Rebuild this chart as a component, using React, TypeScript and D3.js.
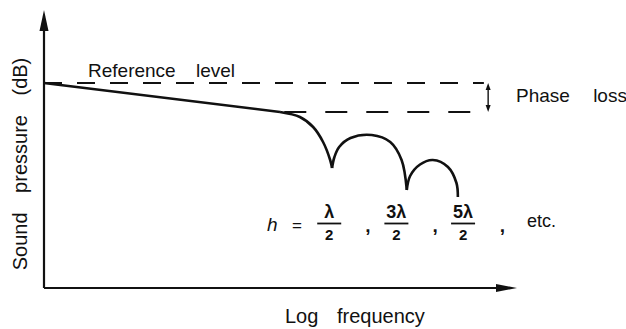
import React from 'react';
import * as d3 from 'd3';

// log-frequency (arbitrary units 0..100) vs sound pressure (dB, 0 = reference)
const directSlope: [number, number][] = [[0, 0], [49.9, -5.8]];
const lobe1: [number, number][] = [[49.9, -5.8], [54.1, -6.8], [56.9, -8.8], [59.0, -11.8], [60.5, -15.4], [60.9, -17]];
const lobe2: [number, number][] = [[60.9, -17], [61.4, -14.8], [62.4, -12.8], [64.8, -11], [69.3, -10.4], [73.2, -11.8], [75.6, -15.4], [76.7, -21.4]];
const lobe3: [number, number][] = [[76.7, -21.4], [77.4, -18.6], [79.5, -16.3], [82.2, -15.4], [85.4, -16.8], [87.2, -20], [87.5, -22.8]];
const referenceLevel = 0;
const phaseLossLevel = -5.8;
const referenceSpan = [0, 93];
const phaseLossSpan = [50.8, 93];
const phaseArrowAt = 93.9;
const fractions = [
  { num: 'λ', at: 60.3 },
  { num: '3λ', at: 74.5 },
  { num: '5λ', at: 88.6 },
];
const commaAt = [68.5, 82.7, 96.9];

const W = 626;
const H = 329;

export default function App() {
  const x = d3.scaleLinear().domain([0, 100]).range([44, 517]);
  const y = d3.scaleLinear().domain([-41, 14]).range([288, 13]);

  const line = d3.line<[number, number]>().x(d => x(d[0])).y(d => y(d[1]));
  const smooth = d3.line<[number, number]>().x(d => x(d[0])).y(d => y(d[1])).curve(d3.curveCatmullRom.alpha(0.5));

  const font = "'Liberation Sans', Arial, sans-serif";
  const ax = x(0);
  const ay = y(-41);
  const ap = x(phaseArrowAt);

  return (
    <svg width={W} height={H} style={{ position: 'absolute', left: 0, top: 0, background: '#fff' }} fontFamily={font}>
      {/* axes */}
      <line x1={ax} y1={ay} x2={ax} y2={24} stroke="#111" strokeWidth={2.2} />
      <path d={`M${ax},10 L${ax - 4.5},31 L${ax + 4.5},31 Z`} fill="#111" />
      <line x1={ax} y1={ay} x2={505} y2={ay} stroke="#111" strokeWidth={2.2} />
      <path d={`M517,${ay} L496,${ay - 4} L496,${ay + 4} Z`} fill="#111" />

      {/* dashed levels */}
      <line x1={x(referenceSpan[0])} x2={x(referenceSpan[1])} y1={y(referenceLevel)} y2={y(referenceLevel)}
        stroke="#111" strokeWidth={2} strokeDasharray="18 15" />
      <line x1={x(phaseLossSpan[0])} x2={x(phaseLossSpan[1])} y1={y(phaseLossLevel)} y2={y(phaseLossLevel)}
        stroke="#111" strokeWidth={2} strokeDasharray="22 19" />

      {/* phase loss double arrow */}
      <line x1={ap} x2={ap} y1={y(referenceLevel) + 4} y2={y(phaseLossLevel) - 4} stroke="#111" strokeWidth={1.4} />
      <path d={`M${ap},${y(referenceLevel)} L${ap - 2.5},${y(referenceLevel) + 7} L${ap + 2.5},${y(referenceLevel) + 7} Z`} fill="#111" />
      <path d={`M${ap},${y(phaseLossLevel)} L${ap - 2.5},${y(phaseLossLevel) - 7} L${ap + 2.5},${y(phaseLossLevel) - 7} Z`} fill="#111" />

      {/* response */}
      <path d={line(directSlope) ?? ''} fill="none" stroke="#111" strokeWidth={2.6} />
      {[lobe1, lobe2, lobe3].map((l, i) => (
        <path key={i} d={smooth(l) ?? ''} fill="none" stroke="#111" strokeWidth={2.6} strokeLinejoin="round" />
      ))}

      {/* labels */}
      <text x={88} y={77} fontSize={19} wordSpacing={15} fill="#111">Reference level</text>
      <text x={516} y={102} fontSize={19} wordSpacing={18} fill="#111">Phase loss</text>
      <text x={285} y={323} fontSize={20} wordSpacing={13} fill="#111">Log frequency</text>
      <text transform={`translate(27,164) rotate(-90)`} textAnchor="middle" fontSize={20} wordSpacing={14} fill="#111">
        Sound pressure (dB)
      </text>

      {/* h = λ/2, 3λ/2, 5λ/2, etc. */}
      <text x={267} y={231} fontSize={19} fontStyle="italic" fill="#111">h</text>
      <text x={292} y={231} fontSize={17} fill="#111">=</text>
      {fractions.map(f => (
        <g key={f.num}>
          <text x={x(f.at)} y={218} fontSize={18} fontWeight="bold" textAnchor="middle" fill="#111">{f.num}</text>
          <line x1={x(f.at) - 12} x2={x(f.at) + 12} y1={223.5} y2={223.5} stroke="#111" strokeWidth={1.8} />
          <text x={x(f.at)} y={240} fontSize={15} fontWeight="bold" textAnchor="middle" fill="#111">2</text>
        </g>
      ))}
      {commaAt.map((c, i) => (
        <text key={i} x={x(c)} y={232} fontSize={19} fontWeight="bold" textAnchor="middle" fill="#111">,</text>
      ))}
      <text x={527} y={227} fontSize={18} fill="#111">etc.</text>
    </svg>
  );
}
